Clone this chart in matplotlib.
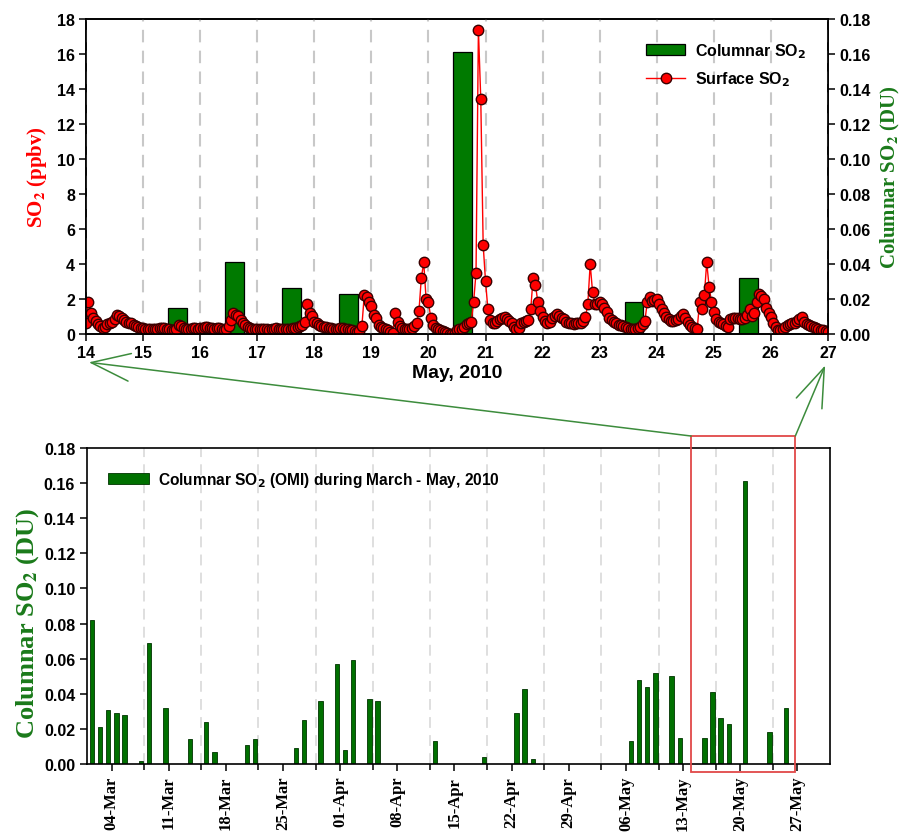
import numpy as np
import pandas as pd
import matplotlib
matplotlib.use("Agg")
import matplotlib.pyplot as plt
import matplotlib.dates as mdates
from matplotlib.patches import Rectangle, ConnectionPatch
from matplotlib.ticker import FixedLocator, FormatStrFormatter

plt.rcParams['font.family'] = ['Liberation Sans', 'DejaVu Sans']
plt.rcParams['font.weight'] = 'bold'
plt.rcParams['axes.linewidth'] = 1.2

# OMI columnar SO2 (DU), March - May 2010
omi_dates = ['2010-03-01', '2010-03-02', '2010-03-03', '2010-03-04', '2010-03-05',
             '2010-03-07', '2010-03-08', '2010-03-10', '2010-03-13', '2010-03-15',
             '2010-03-16', '2010-03-20', '2010-03-21', '2010-03-26', '2010-03-27',
             '2010-03-29', '2010-03-31', '2010-04-01', '2010-04-02', '2010-04-04',
             '2010-04-05', '2010-04-12', '2010-04-18', '2010-04-22', '2010-04-23',
             '2010-04-24', '2010-05-06', '2010-05-07', '2010-05-08', '2010-05-09',
             '2010-05-11', '2010-05-12', '2010-05-15', '2010-05-16', '2010-05-17',
             '2010-05-18', '2010-05-20', '2010-05-23', '2010-05-25']
omi_values = [0.082, 0.021, 0.031, 0.029, 0.028,
              0.002, 0.069, 0.032, 0.014, 0.024,
              0.007, 0.011, 0.014, 0.009, 0.025,
              0.036, 0.057, 0.008, 0.059, 0.037,
              0.036, 0.013, 0.004, 0.029, 0.043,
              0.003, 0.013, 0.048, 0.044, 0.052,
              0.050, 0.015, 0.015, 0.041, 0.026,
              0.023, 0.161, 0.018, 0.032]

# surface SO2 (ppbv), hourly, 14-27 May 2010
may14 = [0.6, 1.8, 1.2, 0.9, 0.75, 0.55, 0.45, 0.35, 0.4, 0.55, 0.65, 0.7,
         0.85, 1.1, 1.0, 0.9, 0.8, 0.7, 0.65, 0.6, 0.5, 0.45, 0.4, 0.35]
may15 = [0.35, 0.3, 0.3, 0.3, 0.3, 0.3, 0.3, 0.35, 0.35, 0.35, 0.3, 0.3,
         0.25, 0.2, 0.3, 0.5, 0.45, 0.35, 0.3, 0.3, 0.3, 0.35, 0.35, 0.3]
may16 = [0.35, 0.35, 0.4, 0.4, 0.35, 0.35, 0.3, 0.35, 0.35, 0.3, 0.25, 0.3,
         0.45, 0.8, 1.2, 1.1, 1.0, 0.8, 0.6, 0.5, 0.4, 0.35, 0.3, 0.3]
may17 = [0.3, 0.3, 0.3, 0.3, 0.3, 0.25, 0.3, 0.3, 0.35, 0.3, 0.3, 0.3,
         0.3, 0.3, 0.3, 0.35, 0.35, 0.4, 0.45, 0.5, 0.7, 1.7, 1.2, 1.0]
may18 = [0.7, 0.6, 0.5, 0.45, 0.4, 0.4, 0.35, 0.35, 0.3, 0.3, 0.3, 0.35,
         0.35, 0.3, 0.3, 0.25, 0.2, 0.15, 0.1, 0.15, 0.45, 2.2, 2.1, 1.8]
may19 = [1.6, 1.1, 0.9, 0.5, 0.4, 0.35, 0.3, 0.2, 0.1, 0.05, 1.2, 0.7,
         0.45, 0.35, 0.3, 0.3, 0.3, 0.35, 0.45, 0.6, 1.3, 3.2, 4.1, 2.0]
may20 = [1.8, 0.9, 0.5, 0.35, 0.3, 0.2, 0.15, 0.1, 0.05, 0.02, 0.0, 0.05,
         0.2, 0.3, 0.3, 0.4, 0.55, 0.6, 0.7, 1.85, 3.5, 17.4, 13.4, 5.1]
may21 = [3.0, 1.4, 0.8, 0.6, 0.6, 0.75, 0.85, 0.9, 0.95, 0.85, 0.75, 0.6,
         0.4, 0.3, 0.35, 0.6, 0.7, 0.75, 0.8, 1.4, 3.2, 2.8, 1.8, 1.3]
may22 = [0.95, 0.75, 0.6, 0.7, 0.9, 1.05, 1.15, 1.0, 0.9, 0.85, 0.7, 0.65,
         0.6, 0.55, 0.6, 0.65, 0.65, 0.75, 0.95, 1.7, 4.0, 2.4, 1.7, 1.7]
may23 = [1.8, 1.7, 1.5, 1.25, 0.9, 0.8, 0.7, 0.6, 0.5, 0.5, 0.45, 0.4,
         0.35, 0.3, 0.3, 0.3, 0.35, 0.4, 0.55, 0.75, 1.8, 2.1, 1.9, 1.95]
may24 = [2.0, 1.7, 1.4, 1.2, 0.95, 0.85, 0.75, 0.75, 0.8, 0.85, 1.0, 1.15,
         0.9, 0.7, 0.5, 0.4, 0.35, 0.3, 1.8, 1.4, 2.2, 4.1, 2.7, 1.85]
may25 = [1.25, 0.85, 0.7, 0.6, 0.55, 0.45, 0.4, 0.85, 0.9, 0.9, 0.9, 0.85,
         0.85, 0.9, 1.1, 1.4, 1.05, 1.2, 1.8, 2.3, 2.15, 2.0, 1.5, 1.2]
may26 = [0.95, 0.6, 0.4, 0.25, 0.2, 0.3, 0.4, 0.5, 0.55, 0.6, 0.65, 0.75,
         0.85, 0.95, 0.7, 0.55, 0.5, 0.45, 0.4, 0.35, 0.3, 0.25, 0.2, 0.15]
may27 = [0.1]

surface = (may14 + may15 + may16 + may17 + may18 + may19 + may20 + may21 +
           may22 + may23 + may24 + may25 + may26 + may27)
surface_x = 14 + np.arange(len(surface)) / 24.0

# OMI overpass ~ early afternoon
omi_ts = pd.to_datetime(omi_dates) + pd.Timedelta(hours=14.4)
omi_num = mdates.date2num(omi_ts.to_pydatetime())
zoom = (omi_ts >= '2010-05-14') & (omi_ts < '2010-05-27')
zoom_x = omi_ts[zoom].day + (omi_ts[zoom].hour + omi_ts[zoom].minute / 60.0) / 24.0
zoom_vals = np.array(omi_values)[zoom]

fig = plt.figure(figsize=(9.13, 8.37), dpi=100)
ax1 = fig.add_axes([0.0942, 0.5998, 0.8127, 0.3763])
ax1r = ax1.twinx()
ax2 = fig.add_axes([0.0953, 0.086, 0.8138, 0.3775])

# ---- top panel
bars = ax1r.bar(zoom_x, zoom_vals, width=0.33, color='#007a00',
                edgecolor='black', linewidth=0.9, label='Columnar SO$_2$')
line, = ax1.plot(surface_x, surface, '-o', color='red', lw=1.0, ms=7.5,
                 mfc='red', mec='#3a0000', mew=1.0, label='Surface SO$_2$')
ax1.set_zorder(ax1r.get_zorder() + 1)
ax1.patch.set_visible(False)

ax1.set_xlim(14, 27)
ax1.set_ylim(0, 18)
ax1r.set_ylim(0, 0.18)
ax1.set_xticks(range(14, 28))
ax1.set_yticks(range(0, 19, 2))
ax1r.set_yticks(np.arange(0, 0.181, 0.02))
ax1r.yaxis.set_major_formatter(FormatStrFormatter('%.2f'))
ax1.grid(axis='x', ls=(0, (6, 4)), color='#c8c8c8', lw=1.5)
ax1.set_axisbelow(True)
for a in (ax1, ax1r):
    a.tick_params(direction='out', length=5, width=1.1, labelsize=11.5, pad=3)

ax1.set_xlabel('May, 2010', fontsize=14, fontweight='bold', labelpad=3)
ax1.set_ylabel('SO$_\\mathbf{2}$ (ppbv)', color='red', family='Liberation Serif',
               fontsize=15, fontweight='bold', math_fontfamily='stix', labelpad=6)
ax1r.set_ylabel('Columnar SO$_\\mathbf{2}$ (DU)', color='#1a7a1a', family='Liberation Serif',
                fontsize=15, fontweight='bold', math_fontfamily='stix', labelpad=6)

leg = ax1.legend([bars, line], ['Columnar SO$_\\mathbf{2}$', 'Surface SO$_\\mathbf{2}$'],
                 loc='upper right', bbox_to_anchor=(0.99, 0.975), frameon=False,
                 prop={'weight': 'bold', 'size': 11.5}, handlelength=2.5, labelspacing=0.6,
                 handletextpad=0.6)

# ---- bottom panel
ax2.bar(omi_num, omi_values, width=0.55, color='#007000', edgecolor='#003300',
        linewidth=0.6, label='Columnar SO$_2$ (OMI) during March - May, 2010')
ax2.set_xlim(mdates.date2num(pd.Timestamp('2010-03-01')),
             mdates.date2num(pd.Timestamp('2010-05-31')))
ax2.set_ylim(0, 0.18)
ax2.set_yticks(np.arange(0, 0.181, 0.02))
ax2.yaxis.set_major_formatter(FormatStrFormatter('%.2f'))
major = pd.date_range('2010-03-04', '2010-05-27', freq='7D')
minor = pd.date_range('2010-03-08', '2010-05-24', freq='7D')
ax2.xaxis.set_major_locator(FixedLocator(mdates.date2num(major.to_pydatetime())))
ax2.xaxis.set_minor_locator(FixedLocator(mdates.date2num(minor.to_pydatetime())))
ax2.xaxis.set_major_formatter(mdates.DateFormatter('%d-%b'))
ax2.grid(axis='x', which='minor', ls=(0, (6, 4)), color='#dcdcdc', lw=1.3)
ax2.set_axisbelow(True)
ax2.tick_params(direction='out', length=5, width=1.1, labelsize=11.5)
ax2.tick_params(axis='x', which='minor', direction='out', length=4, width=1.1)
for lab in ax2.get_xticklabels():
    lab.set_family('Liberation Serif')
    lab.set_fontsize(12)
    lab.set_rotation(90)
ax2.set_ylabel('Columnar SO$_\\mathbf{2}$ (DU)', color='#1a7a1a', family='Liberation Serif',
               fontsize=19, fontweight='bold', math_fontfamily='stix', labelpad=6)
ax2.yaxis.set_label_coords(-0.062, 0.45)
ax2.legend(loc='upper left', bbox_to_anchor=(0.01, 0.975), frameon=False,
           prop={'weight': 'bold', 'size': 11.2}, handlelength=2.6, handletextpad=0.6)

# zoom box and arrows
x0 = mdates.date2num(pd.Timestamp('2010-05-14'))
x1 = mdates.date2num(pd.Timestamp('2010-05-26 18:00'))
ax2.add_patch(Rectangle((x0, -0.025), x1 - x0, 1.063, transform=ax2.get_xaxis_transform(),
                        fill=False, ec='#e04848', lw=1.3, clip_on=False, zorder=5))
for xa, xb, yb in [(x0, 14.05, -0.09), (x1, 26.95, -0.10)]:
    con = ConnectionPatch(xyA=(xa, 1.038), coordsA=ax2.get_xaxis_transform(),
                          xyB=(xb, yb), coordsB=ax1.get_xaxis_transform(),
                          arrowstyle='->, head_length=1.4, head_width=0.5',
                          mutation_scale=20, color='#3c8c3c', lw=1.1)
    fig.add_artist(con)

fig.savefig('out.png', dpi=100)
